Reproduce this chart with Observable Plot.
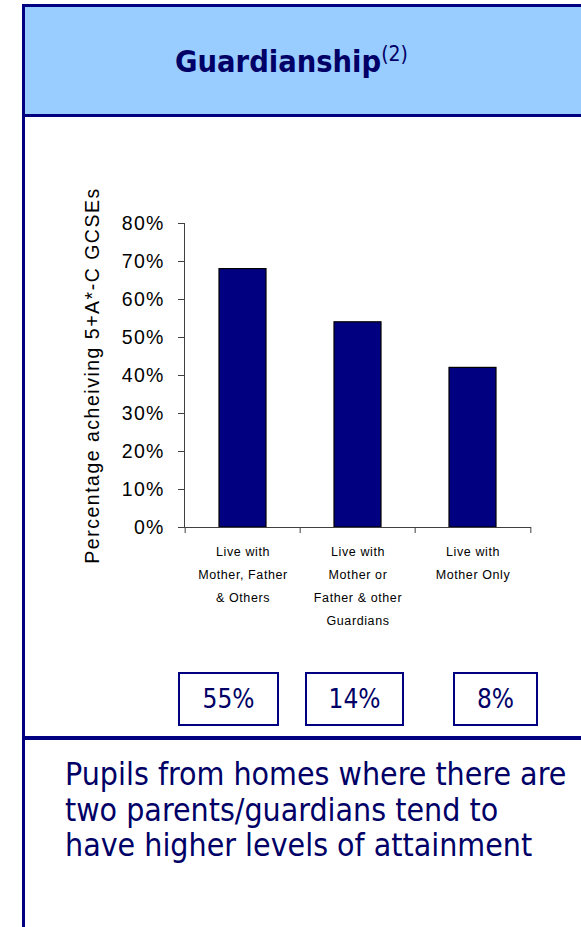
<!DOCTYPE html>
<html>
<head>
<meta charset="utf-8">
<script src="https://cdn.jsdelivr.net/npm/d3@7"></script>
<script src="https://cdn.jsdelivr.net/npm/@observablehq/plot@0.6"></script>
<style>
  html, body { margin: 0; padding: 0; background: #fff; }
  #page { position: relative; width: 581px; height: 927px; overflow: hidden; background: #fff; }
  .navy { position: absolute; background: #000080; }
  #header { position: absolute; left: 22px; top: 4px; width: 600px; height: 113px; background: #99CCFF; }
  #title { position: absolute; left: 12px; width: 559px; top: 42px; text-align: center;
           font-family: "DejaVu Sans Condensed", "DejaVu Sans", sans-serif; font-weight: bold;
           font-size: 30.5px; color: #000066; line-height: 40px; }
  #title sup { font-weight: normal; font-size: 21px; vertical-align: 0; position: relative; top: -11px; }
  #chart { position: absolute; left: 0; top: 117px; }
  .box { position: absolute; top: 672px; height: 50px; border: 2px solid #000080; box-sizing: content-box;
         font-family: "DejaVu Sans Condensed", "DejaVu Sans", sans-serif; font-size: 26px; color: #000066;
         text-align: center; line-height: 50px; }
  #note { position: absolute; left: 65px; top: 756px; width: 520px; white-space: nowrap;
          font-family: "DejaVu Sans Condensed", "DejaVu Sans", sans-serif; font-size: 31.8px;
          line-height: 35.5px; color: #000066; }
</style>
</head>
<body>
<div id="page">
  <div id="header"></div>
  <div class="navy" style="left:22px; top:4px; width:600px; height:3px;"></div>
  <div class="navy" style="left:22px; top:114px; width:600px; height:3px;"></div>
  <div class="navy" style="left:22px; top:4px; width:3px; height:930px;"></div>
  <div class="navy" style="left:22px; top:736px; width:600px; height:4px;"></div>
  <div id="title">Guardianship<sup>(2)</sup></div>
  <div id="chart"></div>
  <div id="boxes"></div>
  <div id="note">Pupils from homes where there are<br>two parents/guardians tend to<br>have higher levels of attainment</div>
</div>
<script>
// ---- data ----
const categories = [
  "Live with\nMother, Father\n& Others",
  "Live with\nMother or\nFather & other\nGuardians",
  "Live with\nMother Only"
];
const values = [0.68, 0.54, 0.42];
const shares = ["55%", "14%", "8%"];
const yTicks = [0, 0.1, 0.2, 0.3, 0.4, 0.5, 0.6, 0.7, 0.8];
const yLabel = "Percentage acheiving 5+A*-C GCSEs";

const data = categories.map((c, i) => ({cat: c, value: values[i]}));

const W = 581, H = 620, ML = 184, MR = 50;
const step = (W - ML - MR) / categories.length;

const chart = Plot.plot({
  width: W, height: H,
  marginTop: 106, marginBottom: 210, marginLeft: ML, marginRight: MR,
  style: {fontFamily: "'Liberation Sans', Arial, sans-serif", color: "#000", background: "transparent", overflow: "visible"},
  x: {domain: categories, padding: 0},
  y: {domain: [0, 0.8]},
  marks: [
    Plot.barY(data, {x: "cat", y: "value", fill: "#000080", stroke: "#000", strokeWidth: 1.2, insetLeft: 34, insetRight: 34}),
    Plot.ruleY([0], {stroke: "#404040", strokeWidth: 1}),
    Plot.frame({anchor: "left", stroke: "#404040", strokeWidth: 1}),
    Plot.ruleX(data, {x: "cat", dx: -step / 2, y1: 0, y2: 0, insetBottom: -6, stroke: "#404040"}),
    Plot.ruleX(data.slice(-1), {x: "cat", dx: step / 2, y1: 0, y2: 0, insetBottom: -6, stroke: "#404040"}),
    Plot.axisY({
      ticks: yTicks, tickFormat: d3.format(".0%"), tickSize: 6, tickPadding: 14,
      fontSize: 19.5, stroke: "#404040", fill: "#000",
      label: yLabel, labelAnchor: "center", labelOffset: 99, labelArrow: "none"
    }),
    Plot.axisX({tickSize: 0, tickPadding: 12, fontSize: 12.5, lineHeight: 1.84, label: null, fill: "#000"})
  ]
});
document.getElementById("chart").appendChild(chart);
d3.select(chart).selectAll('[aria-label="y-axis tick label"] text').style("letter-spacing", "1.2px");
d3.select(chart).selectAll('[aria-label="y-axis label"] text').style("letter-spacing", "1.5px");
d3.select(chart).selectAll('[aria-label="x-axis tick label"] text').style("letter-spacing", "0.6px");

// ---- share boxes ----
const boxPos = [[178, 97], [305, 95], [453, 81]];
const boxes = document.getElementById("boxes");
shares.forEach((s, i) => {
  const d = document.createElement("div");
  d.className = "box";
  d.style.left = boxPos[i][0] + "px";
  d.style.width = boxPos[i][1] + "px";
  d.textContent = s;
  boxes.appendChild(d);
});
</script>
</body>
</html>
